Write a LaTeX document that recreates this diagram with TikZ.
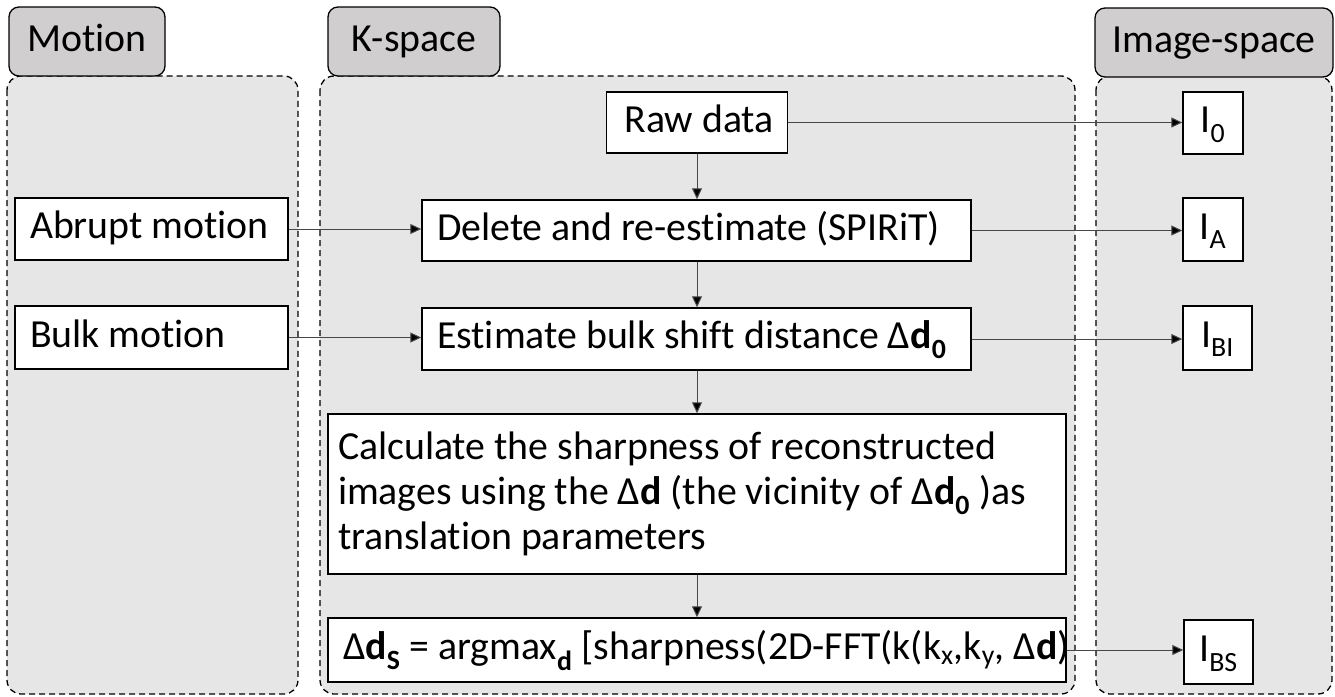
\documentclass[tikz,border=0pt]{standalone}
\usepackage{fontspec}
\setmainfont[Ligatures={NoCommon}]{Carlito}
\usetikzlibrary{arrows.meta}
\definecolor{hdrgray}{RGB}{208,206,206}
\definecolor{panelgray}{RGB}{230,230,230}
\newcommand{\bd}[1]{\textbf{#1}}
\newcommand{\mynodefont}{\fontsize{39.8}{45}\selectfont}
\begin{document}
\begin{tikzpicture}[x=1pt,y=-1pt,
  every node/.style={font=\mynodefont, text height=27pt, text depth=8pt,
    execute at begin node={\spaceskip 0pt\relax\xspaceskip 0pt\relax}},
  hdr/.style={draw=black, line width=1.3pt, fill=hdrgray, rounded corners=10pt, inner sep=0pt},
  panel/.style={draw=black, dash pattern=on 6pt off 4pt, line width=1.3pt, fill=panelgray, rounded corners=14pt},
  lbox/.style={draw=black, line width=1.5pt, fill=white, inner ysep=0pt, inner xsep=15pt, align=left},
  cbox/.style={draw=black, line width=1.5pt, fill=white, inner sep=0pt},
  arr/.style={draw=black!72, line width=1pt, -{Triangle[length=11pt,width=10pt,fill=black]}}]
\useasboundingbox (0,0) rectangle (1335,696);

% panels
\path[panel] (7,76) rectangle (298,694);
\path[panel] (320,76) rectangle (1075,694);
\path[panel] (1096,76) rectangle (1332,694);

% headers
\node[hdr, minimum width=156pt, minimum height=69pt] (hmotion) at (87,41.5) {Motion};
\node[hdr, minimum width=172pt, minimum height=69pt] (hkspace) at (414,41.5) {K-space};
\node[hdr, minimum width=238pt, minimum height=69pt] (himage) at (1214,42.5) {Image-space};

% motion boxes
\node[lbox, text width=243pt, minimum height=62pt] (abrupt) at (151.5,229) {\mbox{Abrupt motion}};
\node[lbox, text width=243pt, minimum height=63pt] (bulk) at (151.5,337.5) {\mbox{Bulk motion}};

% k-space boxes
\node[lbox, inner xsep=18pt, text width=145pt, minimum height=61pt] (raw) at (697,122.5) {\mbox{Raw data}};
\node[lbox, text width=519pt, minimum height=61pt] (delete) at (696.5,230.5) {\mbox{Delete and re-estimate (SPIRiT)}};
\node[lbox, text width=519pt, minimum height=62pt] (estimate) at (696.5,339) {\mbox{Estimate bulk shift distance Δ\bd{d\textsubscript{0}}}};
\node[lbox, inner xsep=10pt, text width=718pt, minimum height=160pt, text height=, text depth=] (calc) at (697,494)
  {\mbox{Calculate the sharpness of reconstructed}\\\mbox{images using the Δ\bd{d} (the vicinity of Δ\bd{d\textsubscript{0}} )as}\\\mbox{translation parameters}};
\node[lbox, inner xsep=15pt, text width=708pt, minimum height=64pt] (dds) at (697,650)
  {\mbox{Δ\bd{d\textsubscript{S}} = argmax\textsubscript{\bd{d}} [sharpness(2D-FFT(k(k\textsubscript{x},k\textsubscript{y}, Δ\bd{d})}};

% image-space boxes
\node[cbox, minimum width=60pt, minimum height=62pt] (i0) at (1213,123) {I\textsubscript{0}};
\node[cbox, minimum width=60pt, minimum height=63pt] (ia) at (1213,229.5) {I\textsubscript{A}};
\node[cbox, minimum width=69pt, minimum height=64pt] (ibi) at (1217.5,338) {I\textsubscript{BI}};
\node[cbox, minimum width=69pt, minimum height=64pt] (ibs) at (1218.5,652) {I\textsubscript{BS}};

% arrows
\draw[arr] (raw.east) -- (raw.east -| i0.west);
\draw[arr] (raw.south) -- (raw.south |- delete.north);
\draw[arr] (abrupt.east) -- (abrupt.east -| delete.west);
\draw[arr] (delete.east) -- (delete.east -| ia.west);
\draw[arr] (delete.south -| raw.south) -- (raw.south |- estimate.north);
\draw[arr] (bulk.east) -- (bulk.east -| estimate.west);
\draw[arr] (estimate.east) -- (estimate.east -| ibi.west);
\draw[arr] (estimate.south -| raw.south) -- (raw.south |- calc.north);
\draw[arr] (calc.south -| raw.south) -- (raw.south |- dds.north);
\draw[arr] (dds.east) -- (dds.east -| ibs.west);
\end{tikzpicture}
\end{document}
